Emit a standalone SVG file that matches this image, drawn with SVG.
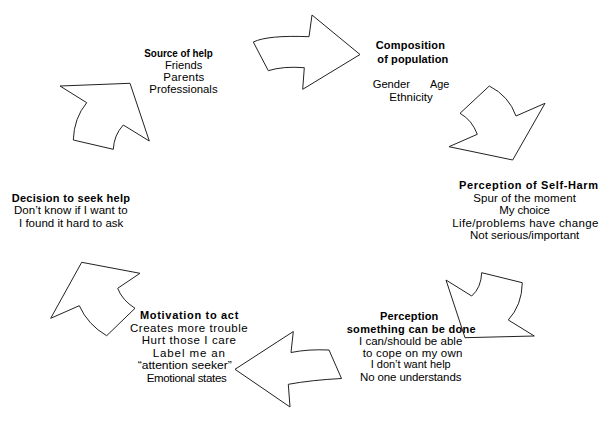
<svg xmlns="http://www.w3.org/2000/svg" width="600" height="424" viewBox="0 0 600 424">
<style>
text{font-family:"Liberation Sans",Arial,sans-serif;font-size:11.5px;fill:#000}
.b{font-weight:bold;font-size:11px}
.arrow{fill:#fff;stroke:#222;stroke-width:1;stroke-linejoin:miter}
</style>
<rect width="600" height="424" fill="#fff"/>
<g id="connectors">
<path class="arrow" d="M253.3,42 Q268,35 309,36.7 L312,15 L360,54.5 L302.7,89.3 L304.3,67.7 Q283,66 268.3,70.7 Z"/>
<path class="arrow" d="M489.3,86 Q509,96 516,116 L545,103.3 L512.7,160 L449,146.7 L477.3,134.3 Q472,120 460,113.3 Z"/>
<path class="arrow" d="M481.7,272.7 L522.3,282.7 Q522,305 508.3,320 L534.3,336 L465,337.7 L446,280 L471.7,296 Q481,288 481.7,272.7 Z"/>
<path class="arrow" d="M235,369.3 L293.3,331.5 L291,352.5 Q308,349 329,350 L341.5,378.5 Q312,380 288.3,384.3 L290,407 Z"/>
<path class="arrow" d="M81.7,262.3 L140,273.3 L117.7,288.3 Q122,300 135,308.3 L106.7,335.7 Q88,325 79.3,305.7 L50.7,318.3 Z"/>
<path class="arrow" d="M60,86 L130,83.3 L149.3,141 L123.3,125 Q114,135 113.3,149.3 L73.3,140 Q74,118 86.7,102.7 Z"/>
</g>
<g id="source">
<text class="b" x="144.3" y="57" textLength="68.4" lengthAdjust="spacingAndGlyphs">Source of help</text>
<text x="165" y="69.3" textLength="37.3" lengthAdjust="spacingAndGlyphs">Friends</text>
<text x="163.3" y="81" textLength="41">Parents</text>
<text x="149.3" y="92.7" textLength="68.3" lengthAdjust="spacingAndGlyphs">Professionals</text>
</g>
<g id="composition">
<text class="b" x="375.7" y="49" textLength="69.3">Composition</text>
<text class="b" x="377.3" y="63.3" textLength="71">of population</text>
<text x="372.7" y="88.3" textLength="37.3" lengthAdjust="spacingAndGlyphs">Gender</text>
<text x="430" y="88.3" textLength="19.3" lengthAdjust="spacingAndGlyphs">Age</text>
<text x="389.3" y="100.7" textLength="43.4">Ethnicity</text>
</g>
<g id="selfharm">
<text class="b" x="459" y="189" textLength="139">Perception of Self-Harm</text>
<text x="473.3" y="201.7" textLength="102.7">Spur of the moment</text>
<text x="499.3" y="214.3" textLength="50.7">My choice</text>
<text x="452.3" y="226.5" textLength="146">Life/problems have change</text>
<text x="470" y="239" textLength="109.3">Not serious/important</text>
</g>
<g id="something">
<text class="b" x="380" y="320" textLength="58.3">Perception</text>
<text class="b" x="346.7" y="332.7" textLength="129">something can be done</text>
<text x="359" y="345" textLength="103.3">I can/should be able</text>
<text x="362.7" y="356.7" textLength="99.6">to cope on my own</text>
<text x="370.7" y="368.3" textLength="80" lengthAdjust="spacingAndGlyphs">I don’t want help</text>
<text x="360" y="380.7" textLength="101.4">No one understands</text>
</g>
<g id="motivation">
<text class="b" x="140" y="319.3" textLength="98.3">Motivation to act</text>
<text x="130" y="331.7" textLength="117.7">Creates more trouble</text>
<text x="141.7" y="344.3" textLength="94.3">Hurt those I care</text>
<text x="152.7" y="356.7" textLength="72.3">Label me an</text>
<text x="137.7" y="369" textLength="94" lengthAdjust="spacingAndGlyphs">“attention seeker”</text>
<text x="146.7" y="381.7" textLength="80">Emotional states</text>
</g>
<g id="decision">
<text class="b" x="11.7" y="201.7" textLength="118.3">Decision to seek help</text>
<text x="14" y="214.3" textLength="113.7">Don’t know if I want to</text>
<text x="19" y="226.7" textLength="104.3">I found it hard to ask</text>
</g>
</svg>
